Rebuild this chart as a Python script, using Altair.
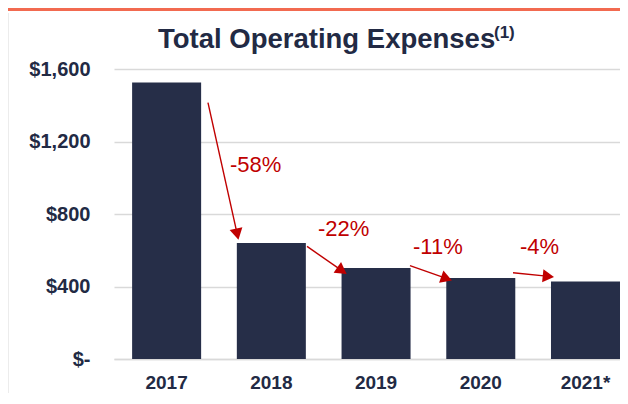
import altair as alt
import pandas as pd
import numpy as np

# ---- data ----
years = ["2017", "2018", "2019", "2020", "2021*"]
expenses = [1525, 640, 502, 447, 428]

# percentage-change labels (position in bar-index units / $ value units)
pct_labels = ["-58%", "-22%", "-11%", "-4%"]
pct_i = [0.606, 1.447, 2.354, 3.376]
pct_v = [1072, 719, 620, 620]

# arrows: start and tip (bar-index units, $ value units)
arr_i0 = [0.396, 1.342, 2.325, 3.309]
arr_v0 = [1414, 621, 515, 476]
arr_i1 = [0.683, 1.704, 2.707, 3.681]
arr_v1 = [669, 476, 437, 454]

title_main = "Total Operating Expenses"
title_sup = "(1)"

# ---- style ----
NAVY = "#262e48"
TEXT = "#222a44"
RED = "#c00000"
GRID = "#d9d9d9"
FONT = "Liberation Sans"
W, H = 506, 290
STEP = 104.72
PX_PER_V = H / 1600.0
I_MIN = -52.5 / STEP
I_MAX = I_MIN + W / STEP

bars_df = pd.DataFrame({"year": years, "expenses": expenses})
lab_df = pd.DataFrame({"i": pct_i, "v": pct_v, "label": pct_labels})

# arrow geometry (head placed just behind the tip)
i0 = np.array(arr_i0); v0 = np.array(arr_v0)
i1 = np.array(arr_i1); v1 = np.array(arr_v1)
dx = (i1 - i0) * STEP
dy = -(v1 - v0) * PX_PER_V
L = np.hypot(dx, dy)
ux, uy = dx / L, dy / L
head_h = 11.0
hc_i = i1 - ux * head_h / 2 / STEP
hc_v = v1 + uy * head_h / 2 / PX_PER_V
angle = np.degrees(np.arctan2(dx, -dy)) % 360
arr_df = pd.DataFrame({"i": i0, "v": v0, "i2": hc_i, "v2": hc_v})
head_df = pd.DataFrame({"i": hc_i, "v": hc_v, "angle": angle})

yscale = alt.Scale(domain=[0, 1600], nice=False, zero=True)
yaxis = alt.Axis(
    values=[0, 400, 800, 1200, 1600],
    labelExpr="datum.value == 0 ? '$-' : '$' + format(datum.value, ',')",
    labelFont=FONT, labelFontSize=20, labelFontWeight="bold", labelColor=TEXT,
    labelPadding=24, domain=False, ticks=False, grid=True,
    gridColor=GRID, gridWidth=1.5, title=None,
)
xq = alt.Scale(domain=[I_MIN, I_MAX], nice=False, zero=False)

bars = alt.Chart(bars_df).mark_bar(color=NAVY).encode(
    x=alt.X("year:N", sort=years,
            scale=alt.Scale(paddingInner=0.341, paddingOuter=0.0865, align=1),
            axis=alt.Axis(labelAngle=0, labelFont=FONT, labelFontSize=19,
                          labelFontWeight="bold", labelColor=TEXT, labelPadding=14,
                          ticks=False, domainColor=GRID, domainWidth=1.5,
                          grid=False, title=None)),
    y=alt.Y("expenses:Q", scale=yscale, axis=yaxis),
)

arrows = alt.Chart(arr_df).mark_rule(color=RED, strokeWidth=1.4).encode(
    x=alt.X("i:Q", scale=xq, axis=None),
    x2="i2:Q",
    y=alt.Y("v:Q", scale=yscale, axis=yaxis),
    y2="v2:Q",
)

heads = alt.Chart(head_df).mark_point(
    shape="triangle", filled=True, color=RED, opacity=1, size=170
).encode(
    x=alt.X("i:Q", scale=xq, axis=None),
    y=alt.Y("v:Q", scale=yscale, axis=yaxis),
    angle=alt.Angle("angle:Q", scale=None),
)

labels = alt.Chart(lab_df).mark_text(
    align="left", baseline="middle", font=FONT, fontSize=22, color=RED
).encode(
    x=alt.X("i:Q", scale=xq, axis=None),
    y=alt.Y("v:Q", scale=yscale, axis=yaxis),
    text="label:N",
)

title = alt.Chart(pd.DataFrame({"t": [title_main]})).mark_text(
    align="left", baseline="alphabetic", font=FONT, fontSize=27.5,
    fontWeight="bold", color=TEXT
).encode(x=alt.value(44), y=alt.value(-21), text="t:N")

sup = alt.Chart(pd.DataFrame({"t": [title_sup]})).mark_text(
    align="left", baseline="alphabetic", font=FONT, fontSize=17,
    fontWeight="bold", color=TEXT
).encode(x=alt.value(380), y=alt.value(-31), text="t:N")

top_line = alt.Chart(pd.DataFrame({"a": [0]})).mark_rule(
    color="#f26a50", strokeWidth=3
).encode(x=alt.value(-106), x2=alt.value(W), y=alt.value(-59.5))

left_line = alt.Chart(pd.DataFrame({"a": [0]})).mark_rule(
    color="#ececec", strokeWidth=1
).encode(x=alt.value(-105.5), y=alt.value(-56), y2=alt.value(H + 34))

chart = alt.layer(
    bars, arrows, heads, labels, title, sup, top_line, left_line
).resolve_scale(x="independent").resolve_axis(x="independent").properties(
    width=W, height=H,
    autosize="none",
    padding={"left": 106, "top": 61, "right": 0, "bottom": 34},
    background="white",
).configure_view(stroke=None)

chart.save("out.html", embed_options={"renderer": "svg", "actions": False})
